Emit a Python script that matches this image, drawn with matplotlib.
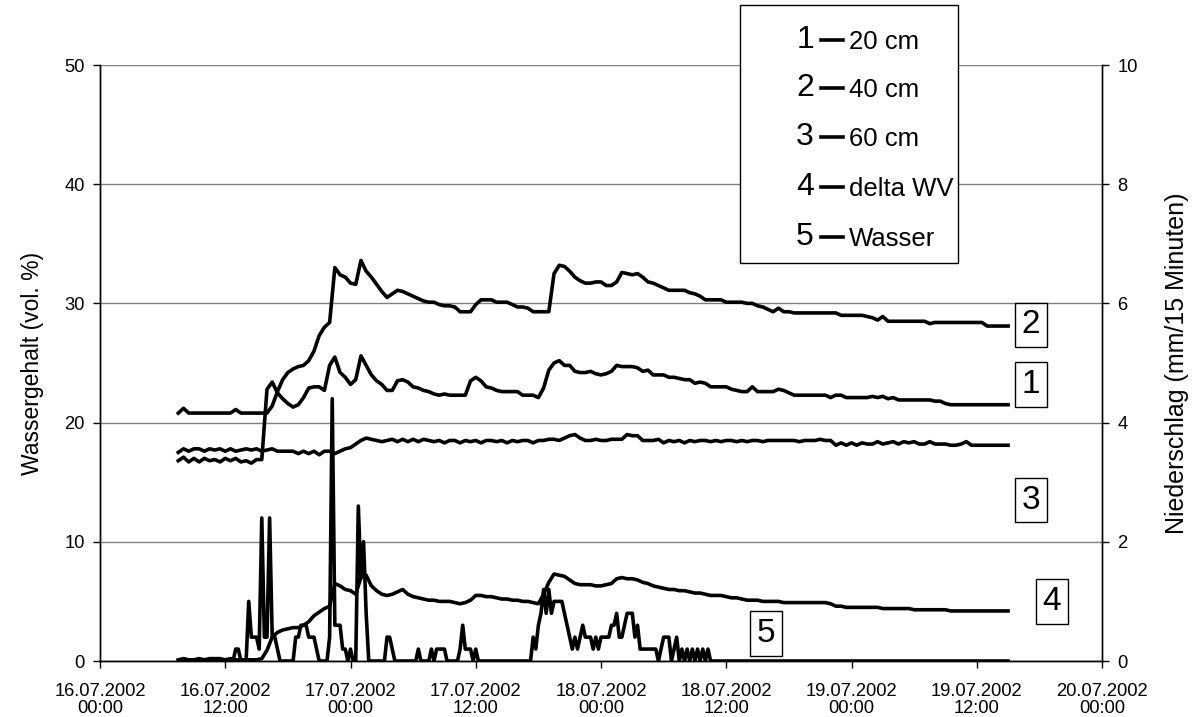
import matplotlib
matplotlib.use("Agg")
import matplotlib.pyplot as plt
import matplotlib.dates as mdates
from matplotlib.lines import Line2D
from matplotlib.patches import Rectangle
import pandas as pd

plt.rcParams['font.family'] = ['Liberation Sans', 'DejaVu Sans']

# ---- measurement data -------------------------------------------------
start = pd.Timestamp('2002-07-16 07:30')
t_30min = pd.date_range(start, periods=160, freq='30min')   # soil moisture readings
t_15min = pd.date_range(start, periods=319, freq='15min')   # water input readings

# water content, 20 cm depth (vol. %)
wc_20cm = [
    16.8, 17.1, 16.7, 17.0, 16.7, 17.0, 16.8, 16.9, 16.7, 17.0, 16.8, 17.0, 16.7, 16.8, 16.6, 16.9,
    16.9, 22.8, 23.4, 22.5, 22.0, 21.6, 21.3, 21.5, 22.1, 22.9, 23.0, 23.0, 22.7, 24.8, 25.5, 24.2,
    23.8, 23.2, 23.6, 25.6, 24.8, 24.0, 23.5, 23.2, 22.7, 22.7, 23.5, 23.6, 23.4, 23.0, 22.9, 22.7,
    22.6, 22.4, 22.3, 22.4, 22.3, 22.3, 22.3, 22.3, 23.5, 23.8, 23.5, 23.0, 22.9, 22.7, 22.6, 22.6,
    22.6, 22.6, 22.3, 22.3, 22.3, 22.1, 22.9, 24.4, 25.0, 25.2, 24.8, 24.8, 24.3, 24.2, 24.2, 24.3,
    24.1, 24.0, 24.1, 24.3, 24.8, 24.7, 24.7, 24.7, 24.6, 24.3, 24.4, 24.0, 24.0, 24.0, 23.8, 23.8,
    23.7, 23.6, 23.6, 23.3, 23.4, 23.3, 23.0, 23.0, 23.0, 23.0, 22.8, 22.7, 22.6, 22.6, 23.0, 22.6,
    22.6, 22.6, 22.6, 22.8, 22.7, 22.5, 22.3, 22.3, 22.3, 22.3, 22.3, 22.3, 22.3, 22.1, 22.3, 22.3,
    22.1, 22.1, 22.1, 22.1, 22.1, 22.2, 22.1, 22.2, 22.0, 22.1, 21.9, 21.9, 21.9, 21.9, 21.9, 21.9,
    21.9, 21.8, 21.8, 21.6, 21.5, 21.5, 21.5, 21.5, 21.5, 21.5, 21.5, 21.5, 21.5, 21.5, 21.5, 21.5,
]

# water content, 40 cm depth (vol. %)
wc_40cm = [
    20.8, 21.2, 20.8, 20.8, 20.8, 20.8, 20.8, 20.8, 20.8, 20.8, 20.8, 21.1, 20.8, 20.8, 20.8, 20.8,
    20.8, 20.8, 21.4, 22.6, 23.6, 24.2, 24.5, 24.7, 24.8, 25.2, 26.0, 27.3, 28.0, 28.4, 33.0, 32.4,
    32.2, 31.7, 31.6, 33.6, 32.7, 32.2, 31.6, 31.0, 30.5, 30.8, 31.1, 31.0, 30.8, 30.6, 30.4, 30.2,
    30.1, 30.1, 29.9, 29.8, 29.8, 29.7, 29.3, 29.3, 29.3, 29.9, 30.3, 30.3, 30.3, 30.1, 30.1, 30.1,
    29.9, 29.7, 29.7, 29.6, 29.3, 29.3, 29.3, 29.3, 32.5, 33.2, 33.1, 32.7, 32.2, 31.9, 31.7, 31.7,
    31.8, 31.8, 31.5, 31.5, 31.8, 32.6, 32.5, 32.4, 32.5, 32.2, 31.8, 31.7, 31.5, 31.3, 31.1, 31.1,
    31.1, 31.1, 30.9, 30.8, 30.6, 30.3, 30.3, 30.3, 30.3, 30.1, 30.1, 30.1, 30.1, 30.0, 30.0, 29.8,
    29.7, 29.5, 29.3, 29.6, 29.3, 29.3, 29.2, 29.2, 29.2, 29.2, 29.2, 29.2, 29.2, 29.2, 29.2, 29.0,
    29.0, 29.0, 29.0, 29.0, 28.9, 28.8, 28.6, 28.9, 28.5, 28.5, 28.5, 28.5, 28.5, 28.5, 28.5, 28.5,
    28.3, 28.4, 28.4, 28.4, 28.4, 28.4, 28.4, 28.4, 28.4, 28.4, 28.4, 28.1, 28.1, 28.1, 28.1, 28.1,
]

# water content, 60 cm depth (vol. %)
wc_60cm = [
    17.5, 17.8, 17.6, 17.8, 17.8, 17.6, 17.8, 17.7, 17.8, 17.6, 17.8, 17.6, 17.7, 17.8, 17.7, 17.8,
    17.6, 17.7, 17.8, 17.6, 17.6, 17.6, 17.6, 17.4, 17.6, 17.4, 17.6, 17.3, 17.6, 17.6, 17.4, 17.6,
    17.8, 17.9, 18.2, 18.5, 18.7, 18.6, 18.5, 18.4, 18.5, 18.6, 18.4, 18.6, 18.4, 18.6, 18.4, 18.6,
    18.5, 18.4, 18.5, 18.3, 18.5, 18.5, 18.3, 18.5, 18.4, 18.5, 18.3, 18.5, 18.5, 18.4, 18.5, 18.3,
    18.5, 18.4, 18.5, 18.5, 18.3, 18.5, 18.5, 18.6, 18.6, 18.5, 18.7, 18.9, 19.0, 18.7, 18.5, 18.5,
    18.6, 18.5, 18.5, 18.6, 18.6, 18.6, 19.0, 18.9, 18.9, 18.5, 18.5, 18.5, 18.6, 18.3, 18.5, 18.4,
    18.5, 18.3, 18.5, 18.4, 18.5, 18.5, 18.4, 18.5, 18.4, 18.5, 18.5, 18.4, 18.5, 18.4, 18.5, 18.5,
    18.4, 18.5, 18.5, 18.5, 18.5, 18.5, 18.5, 18.4, 18.5, 18.5, 18.5, 18.6, 18.5, 18.5, 18.1, 18.3,
    18.1, 18.3, 18.1, 18.3, 18.2, 18.2, 18.4, 18.2, 18.3, 18.4, 18.2, 18.4, 18.3, 18.4, 18.2, 18.2,
    18.4, 18.2, 18.2, 18.2, 18.1, 18.1, 18.2, 18.4, 18.1, 18.1, 18.1, 18.1, 18.1, 18.1, 18.1, 18.1,
]

# change of water storage
delta_wv = [
    0.1, 0.2, 0.1, 0.1, 0.2, 0.1, 0.2, 0.2, 0.2, 0.1, 0.2, 0.1, 0.1, 0.1, 0.1, 0.1,
    0.2, 0.9, 2.0, 2.4, 2.6, 2.7, 2.8, 2.8, 3.0, 3.3, 3.8, 4.1, 4.4, 4.6, 6.5, 6.3,
    6.0, 5.9, 5.6, 7.0, 7.2, 6.3, 5.9, 5.6, 5.5, 5.6, 5.8, 6.0, 5.6, 5.4, 5.3, 5.2,
    5.1, 5.1, 5.0, 5.0, 5.0, 4.9, 4.8, 4.9, 5.1, 5.5, 5.5, 5.4, 5.4, 5.3, 5.2, 5.2,
    5.1, 5.1, 5.0, 5.0, 4.9, 4.8, 5.6, 6.6, 7.3, 7.2, 7.1, 6.8, 6.5, 6.4, 6.4, 6.4,
    6.3, 6.3, 6.4, 6.5, 6.9, 7.0, 6.9, 6.9, 6.8, 6.6, 6.5, 6.3, 6.2, 6.1, 6.0, 6.0,
    5.9, 5.9, 5.8, 5.7, 5.7, 5.6, 5.5, 5.5, 5.5, 5.4, 5.3, 5.3, 5.2, 5.1, 5.1, 5.1,
    5.0, 5.0, 5.0, 5.0, 4.9, 4.9, 4.9, 4.9, 4.9, 4.9, 4.9, 4.9, 4.9, 4.8, 4.6, 4.6,
    4.5, 4.5, 4.5, 4.5, 4.5, 4.5, 4.5, 4.4, 4.4, 4.4, 4.4, 4.4, 4.4, 4.3, 4.3, 4.3,
    4.3, 4.3, 4.3, 4.3, 4.2, 4.2, 4.2, 4.2, 4.2, 4.2, 4.2, 4.2, 4.2, 4.2, 4.2, 4.2,
]

# applied water (mm / 15 min)
wasser = [
    0, 0, 0, 0, 0, 0, 0, 0, 0, 0, 0, 0, 0, 0, 0, 0,
    0, 0, 0, 0, 0, 0, 0.2, 0.2, 0, 0, 0, 1.0, 0.4, 0.4, 0.4, 0.2,
    2.4, 0.4, 0.4, 2.4, 0.4, 0.4, 0.2, 0, 0, 0, 0, 0, 0, 0.4, 0.4, 0.6,
    0.6, 0.6, 0.4, 0.4, 0.4, 0.2, 0, 0, 0, 0, 0.4, 4.4, 0.6, 0.6, 0.6, 0.2,
    0.2, 0, 0.2, 0, 0, 2.6, 1.4, 2.0, 0.8, 0, 0, 0, 0, 0, 0, 0,
    0.4, 0.4, 0.2, 0, 0, 0, 0, 0, 0, 0, 0, 0, 0.2, 0, 0, 0,
    0, 0.2, 0, 0.2, 0.2, 0.2, 0.2, 0, 0, 0, 0, 0, 0.2, 0.6, 0.2, 0.2,
    0.2, 0, 0.2, 0, 0, 0, 0, 0, 0, 0, 0, 0, 0, 0, 0, 0,
    0, 0, 0, 0, 0, 0, 0, 0, 0.4, 0.2, 0.6, 0.8, 1.2, 0.8, 1.2, 0.8,
    1.0, 1.0, 1.0, 1.0, 0.8, 0.6, 0.4, 0.2, 0.4, 0.2, 0.4, 0.6, 0.4, 0.4, 0.4, 0.2,
    0.4, 0.2, 0.4, 0.4, 0.4, 0.4, 0.6, 0.6, 0.8, 0.4, 0.4, 0.6, 0.8, 0.8, 0.8, 0.4,
    0.6, 0.2, 0.2, 0.2, 0.2, 0.2, 0.2, 0.2, 0, 0.2, 0.4, 0.4, 0.4, 0, 0.2, 0.4,
    0, 0.2, 0, 0.2, 0, 0.2, 0, 0.2, 0, 0.2, 0, 0.2, 0, 0, 0, 0,
    0, 0, 0, 0, 0, 0, 0, 0, 0, 0, 0, 0, 0, 0, 0, 0,
    0, 0, 0, 0, 0, 0, 0, 0, 0, 0, 0, 0, 0, 0, 0, 0,
    0, 0, 0, 0, 0, 0, 0, 0, 0, 0, 0, 0, 0, 0, 0, 0,
    0, 0, 0, 0, 0, 0, 0, 0, 0, 0, 0, 0, 0, 0, 0, 0,
    0, 0, 0, 0, 0, 0, 0, 0, 0, 0, 0, 0, 0, 0, 0, 0,
    0, 0, 0, 0, 0, 0, 0, 0, 0, 0, 0, 0, 0, 0, 0, 0,
    0, 0, 0, 0, 0, 0, 0, 0, 0, 0, 0, 0, 0, 0, 0,
]

legend_numbers = ['1', '2', '3', '4', '5']
legend_labels = ['20 cm', '40 cm', '60 cm', 'delta WV', 'Wasser']

# curve tags: (number, time, value on left axis)
curve_tags = [
    ('2', '2002-07-19 17:10', 28.2),
    ('1', '2002-07-19 17:10', 23.2),
    ('3', '2002-07-19 17:10', 13.5),
    ('4', '2002-07-19 19:10', 5.0),
    ('5', '2002-07-18 15:50', 2.3),
]

# ---- figure ---------------------------------------------------------------
W, H = 1194, 717
fig = plt.figure(figsize=(W / 100, H / 100), dpi=100)
ax = fig.add_axes([100 / W, (H - 661) / H, 1002 / W, 596 / H])
ax2 = ax.twinx()

LW = 2.6
ax.plot(t_30min, wc_40cm, color='black', lw=LW, solid_joinstyle='round', zorder=3)
ax.plot(t_30min, wc_20cm, color='black', lw=LW, solid_joinstyle='round', zorder=3)
ax.plot(t_30min, wc_60cm, color='black', lw=LW, solid_joinstyle='round', zorder=3)
ax.plot(t_30min, delta_wv, color='black', lw=LW, solid_joinstyle='round', zorder=3)
ax2.plot(t_15min, wasser, color='black', lw=LW, solid_joinstyle='round', zorder=3)

x0 = pd.Timestamp('2002-07-16 00:00')
x1 = pd.Timestamp('2002-07-20 00:00')
ax.set_xlim(x0, x1)
ax.set_ylim(0, 50)
ax2.set_ylim(0, 10)
ax.set_yticks(range(0, 51, 10))
ax2.set_yticks(range(0, 11, 2))

ax.xaxis.set_major_locator(mdates.HourLocator(byhour=[0, 12]))
ax.xaxis.set_major_formatter(mdates.DateFormatter('%d.%m.%Y\n%H:%M'))

ax.yaxis.grid(True, color='#808080', lw=1.0)
ax.set_axisbelow(True)
for a in (ax, ax2):
    a.spines['top'].set_visible(False)
    for s in ('left', 'right', 'bottom'):
        a.spines[s].set_linewidth(1.0)
        a.spines[s].set_color('black')

ax.tick_params(axis='y', direction='out', length=5, width=1, labelsize=13.2, pad=6)
ax2.tick_params(axis='y', direction='out', length=5, width=1, labelsize=13.2, pad=6)
ax.tick_params(axis='x', direction='out', length=5, width=1, labelsize=13.2, pad=11)
for lab in ax.get_xticklabels():
    lab.set_linespacing(1.0)

ax.set_ylabel('Wassergehalt (vol. %)', fontsize=16.5, labelpad=15)
ax2.set_ylabel('Niederschlag (mm/15 Minuten)', fontsize=18, labelpad=20)

# numbered tags next to the curves
for num, when, val in curve_tags:
    ax.text(mdates.date2num(pd.Timestamp(when)), val, num, fontsize=24,
            ha='center', va='center', zorder=5,
            bbox=dict(boxstyle='square,pad=0.2', fc='white', ec='black', lw=1.0))

# legend box drawn in figure pixels
def fx(px):
    return px / W

def fy(py):
    return 1 - py / H

fig.patches.append(Rectangle((fx(740), fy(263)), fx(958) - fx(740), fy(5) - fy(263),
                             transform=fig.transFigure, fc='white', ec='black', lw=1.0,
                             zorder=10))
row_y = [40, 88, 137, 187, 237]
for num, lab, yy in zip(legend_numbers, legend_labels, row_y):
    fig.text(fx(805), fy(yy), num, fontsize=23, ha='center', va='center', zorder=11)
    fig.lines.append(Line2D([fx(821), fx(843)], [fy(yy), fy(yy)], transform=fig.transFigure,
                            color='black', lw=2.6, zorder=11))
    fig.text(fx(849), fy(yy + 2), lab, fontsize=18.5, ha='left', va='center', zorder=11)

fig.savefig('out.png', dpi=100)
